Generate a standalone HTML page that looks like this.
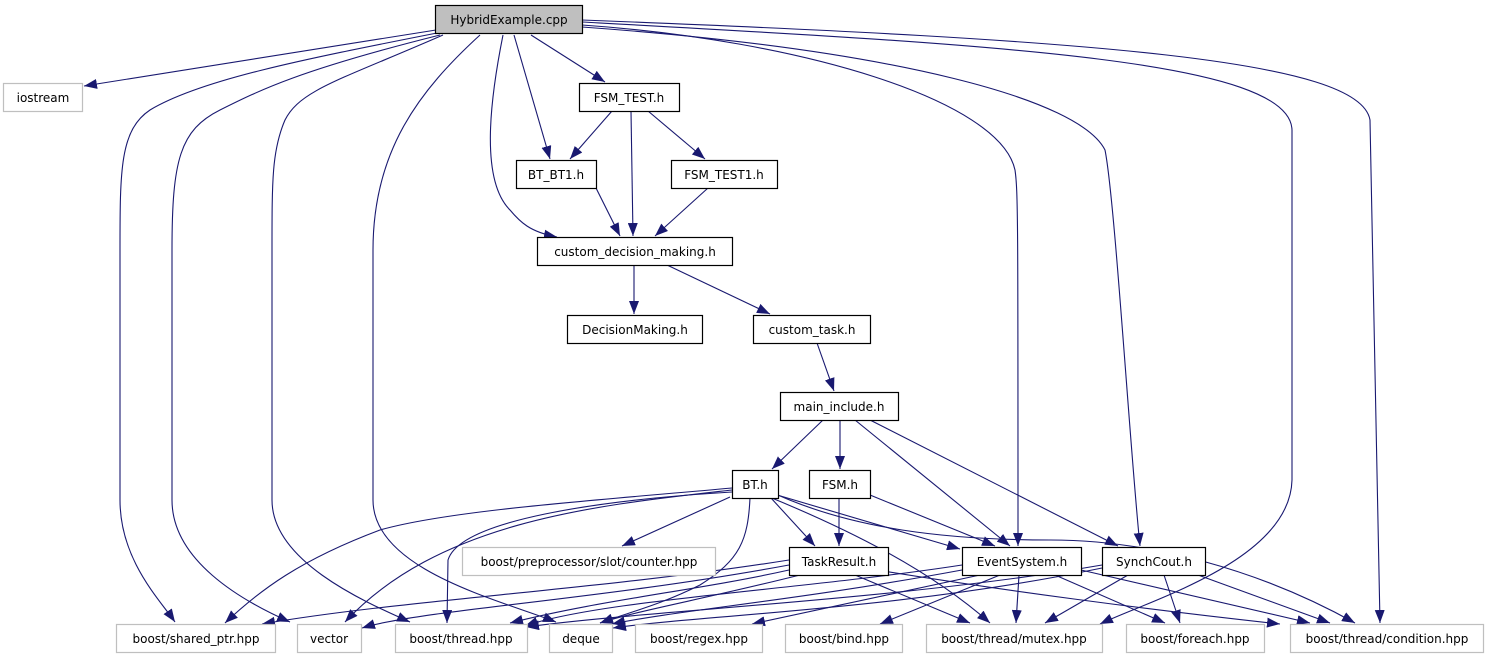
<!DOCTYPE html>
<html><head><meta charset="utf-8"><style>
html,body{margin:0;padding:0;background:#fff;}
svg{display:block;}
text{font-family:"DejaVu Sans","Liberation Sans",sans-serif;font-size:12px;text-anchor:middle;fill:#000;}
</style></head><body>
<svg width="1489" height="659" viewBox="0 0 1489 659" xmlns="http://www.w3.org/2000/svg">
<defs>
<marker id="a" markerUnits="userSpaceOnUse" markerWidth="14" markerHeight="10" refX="13" refY="5" orient="auto">
<path d="M0,0 L13,5 L0,10 z" fill="#191970"/>
</marker>
</defs>
<g fill="none" stroke="#191970" stroke-width="1.1" marker-end="url(#a)">
<path d="M436,30 L84,86"/>
<path d="M437,33 C300,60 200,80 150,110 C120,130 120,170 120,250 L120,500 C120,560 160,600 175,622"/>
<path d="M440,35 C300,70 260,90 220,110 C180,130 172,160 172,250 L172,500 C172,560 240,600 290,622"/>
<path d="M443,35 C340,80 300,90 285,120 C272,150 272,180 272,250 L272,500 C272,560 360,600 410,622"/>
<path d="M480,35 C420,90 373,150 373,250 L373,500 C373,570 500,600 556,622"/>
<path d="M503,35 C490,100 480,180 510,210 C520,222 530,232 557,237"/>
<path d="M514,35 L550,159"/>
<path d="M531,35 L605,82"/>
<path d="M582,25 C800,40 1000,100 1015,170 C1018,190 1018,220 1018,546"/>
<path d="M582,27 C900,50 1080,100 1105,150 C1115,200 1130,450 1140,546"/>
<path d="M582,22 C1000,45 1290,60 1292,130 L1292,480 C1290,560 1150,600 1100,624"/>
<path d="M582,20 C1100,40 1360,60 1370,120 L1380,623"/>
<path d="M612,111 L570,159"/>
<path d="M631,111 L633,236"/>
<path d="M648,111 L705,159"/>
<path d="M596,188 L620,236"/>
<path d="M708,188 L655,236"/>
<path d="M634,265 L634,314"/>
<path d="M667,265 L770,314"/>
<path d="M817,343 L834,391"/>
<path d="M823,420 L772,469"/>
<path d="M840,420 L840,469"/>
<path d="M855,420 L1010,546"/>
<path d="M870,420 L1118,546"/>
<path d="M730,497 L622,546"/>
<path d="M771,498 L815,546"/>
<path d="M767,492 L960,549"/>
<path d="M767,496 C850,530 930,570 990,623"/>
<path d="M767,490 C850,530 950,540 1050,540 C1150,540 1260,570 1355,623"/>
<path d="M732,488 C600,500 450,510 380,530 C300,560 260,590 225,623"/>
<path d="M732,490 C600,505 440,520 345,622"/>
<path d="M732,492 C600,500 460,520 448,560 L447,623"/>
<path d="M750,498 C748,540 740,560 700,585 C660,605 630,612 600,623"/>
<path d="M839,498 L839,546"/>
<path d="M870,495 L995,546"/>
<path d="M789,560 C600,590 400,600 262,624"/>
<path d="M789,565 C600,600 420,610 362,628"/>
<path d="M789,570 C700,590 600,600 510,623"/>
<path d="M800,575 C700,600 640,610 600,623"/>
<path d="M855,575 L970,623"/>
<path d="M877,570 C1000,590 1150,610 1280,624"/>
<path d="M962,565 C800,590 600,600 525,626"/>
<path d="M962,570 C800,600 680,610 612,624"/>
<path d="M980,575 L752,624"/>
<path d="M1000,575 L880,624"/>
<path d="M1019,575 L1016,623"/>
<path d="M1055,575 L1165,623"/>
<path d="M1081,570 L1310,623"/>
<path d="M1102,565 C900,600 650,610 526,627"/>
<path d="M1102,568 C900,610 700,615 613,628"/>
<path d="M1128,575 L1045,623"/>
<path d="M1164,575 L1180,623"/>
<path d="M1198,575 L1330,623"/>
</g>
<g stroke-width="1.2">
<rect x="435.5" y="5.5" width="147" height="28" fill="#bfbfbf" stroke="#000"/>
<text x="509" y="24">HybridExample.cpp</text>
<g fill="#fff" stroke="#000">
<rect x="579.5" y="83.5" width="100" height="28"/>
<rect x="516.5" y="160.5" width="80" height="28"/>
<rect x="671.5" y="160.5" width="106" height="28"/>
<rect x="537.5" y="237.5" width="195" height="28"/>
<rect x="567.5" y="315.5" width="135" height="28"/>
<rect x="753.5" y="315.5" width="117" height="28"/>
<rect x="780.5" y="392.5" width="118" height="28"/>
<rect x="732.5" y="470.5" width="46" height="28"/>
<rect x="809.5" y="470.5" width="61" height="28"/>
<rect x="789.5" y="547.5" width="99" height="28"/>
<rect x="962.5" y="547.5" width="119" height="28"/>
<rect x="1102.5" y="547.5" width="103" height="28"/>
</g>
<g fill="#fff" stroke="#bfbfbf">
<rect x="3.5" y="83.5" width="79" height="28"/>
<rect x="462.5" y="547.5" width="253" height="28"/>
<rect x="116.5" y="624.5" width="159" height="28"/>
<rect x="297.5" y="624.5" width="64" height="28"/>
<rect x="395.5" y="624.5" width="132" height="28"/>
<rect x="549.5" y="624.5" width="63" height="28"/>
<rect x="635.5" y="624.5" width="127" height="28"/>
<rect x="785.5" y="624.5" width="117" height="28"/>
<rect x="926.5" y="624.5" width="176" height="28"/>
<rect x="1126.5" y="624.5" width="138" height="28"/>
<rect x="1290.5" y="624.5" width="193" height="28"/>
</g>
</g>
<text x="629" y="102">FSM_TEST.h</text>
<text x="556" y="179">BT_BT1.h</text>
<text x="724" y="179">FSM_TEST1.h</text>
<text x="635" y="256">custom_decision_making.h</text>
<text x="635" y="334">DecisionMaking.h</text>
<text x="812" y="334">custom_task.h</text>
<text x="839" y="411">main_include.h</text>
<text x="755" y="489">BT.h</text>
<text x="840" y="489">FSM.h</text>
<text x="839" y="566">TaskResult.h</text>
<text x="1022" y="566">EventSystem.h</text>
<text x="1154" y="566">SynchCout.h</text>
<text x="43" y="102">iostream</text>
<text x="589" y="566">boost/preprocessor/slot/counter.hpp</text>
<text x="196" y="643">boost/shared_ptr.hpp</text>
<text x="329" y="643">vector</text>
<text x="461" y="643">boost/thread.hpp</text>
<text x="581" y="643">deque</text>
<text x="699" y="643">boost/regex.hpp</text>
<text x="844" y="643">boost/bind.hpp</text>
<text x="1014" y="643">boost/thread/mutex.hpp</text>
<text x="1195" y="643">boost/foreach.hpp</text>
<text x="1387" y="643">boost/thread/condition.hpp</text>
</svg>
</body></html>
